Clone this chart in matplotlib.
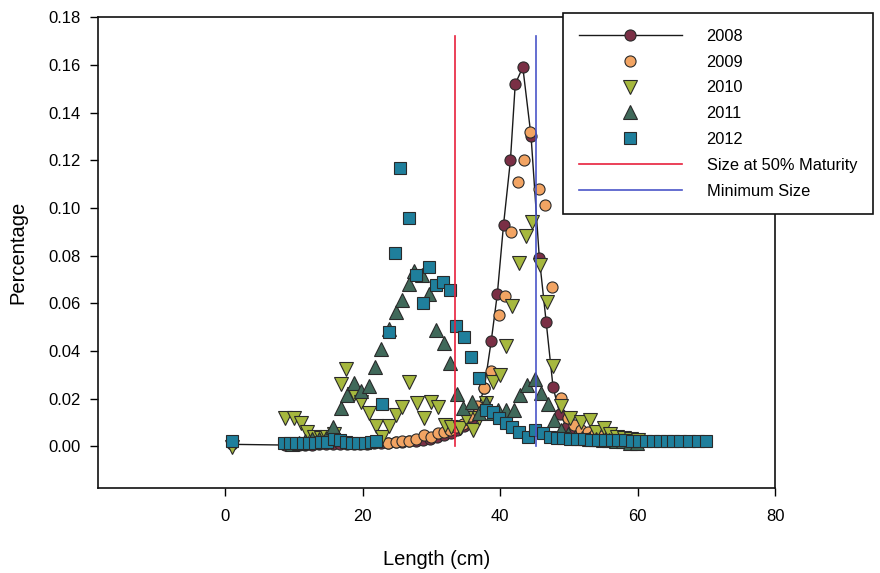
import numpy as np
import matplotlib
matplotlib.use("Agg")
import matplotlib.pyplot as plt

plt.rcParams["font.family"] = ["Liberation Sans", "DejaVu Sans"]

# ------------------------------------------------------------
# Length-frequency data
# ------------------------------------------------------------

len_2008 = [1.0, 8.7, 9.7, 10.7, 11.7, 12.7, 13.7, 14.7, 15.7, 16.7, 17.7, 18.7,
            19.7, 20.7, 21.7, 22.7, 23.7, 24.8, 25.8, 26.8, 27.8, 28.8, 29.8, 30.8,
            31.8, 32.8, 33.8, 34.8, 35.8, 36.8, 37.7, 38.7, 39.6, 40.5, 41.5, 42.2,
            43.3, 44.5, 45.7, 46.7, 47.7, 48.7, 49.7, 50.7, 51.7, 52.7, 53.7, 54.7,
            55.7, 56.7, 57.7, 58.7, 59.7]
pct_2008 = [0.0008, 0.0005, 0.0005, 0.0006, 0.0006, 0.0007, 0.0008, 0.0008, 0.0009,
            0.0010, 0.0009, 0.0010, 0.0011, 0.0011, 0.0012, 0.0013, 0.0014, 0.0016,
            0.0018, 0.0020, 0.0024, 0.0028, 0.0032, 0.0038, 0.0046, 0.0056, 0.0068,
            0.0085, 0.0105, 0.0160, 0.0245, 0.044, 0.064, 0.093, 0.120, 0.152,
            0.159, 0.130, 0.079, 0.052, 0.0247, 0.0134, 0.008, 0.006, 0.005,
            0.0045, 0.004, 0.0035, 0.003, 0.003, 0.0025, 0.002, 0.002]

len_2009 = [23.7, 24.8, 25.8, 26.8, 27.8, 28.9, 30.0, 30.9, 31.8, 32.7, 33.6, 34.6,
            35.6, 36.7, 37.7, 38.7, 39.8, 40.7, 41.6, 42.6, 43.5, 44.4, 45.6, 46.5,
            47.6, 48.9, 49.8, 50.8, 51.8, 52.8, 53.8, 54.8, 55.8, 56.8, 57.8, 58.8,
            59.8]
pct_2009 = [0.0015, 0.0018, 0.0020, 0.0024, 0.0030, 0.0046, 0.0040, 0.0054, 0.0060,
            0.0068, 0.0080, 0.0095, 0.0125, 0.017, 0.0243, 0.0315, 0.055, 0.063,
            0.090, 0.111, 0.120, 0.132, 0.108, 0.101, 0.0668, 0.0204, 0.012, 0.009,
            0.007, 0.006, 0.005, 0.0045, 0.004, 0.0035, 0.003, 0.0025, 0.002]

len_2010 = [1.0, 8.7, 10.1, 11.1, 11.9, 12.9, 13.9, 14.9, 15.9, 16.8, 17.6, 18.7,
            19.8, 20.9, 21.9, 22.9, 23.8, 24.9, 25.8, 26.8, 27.9, 29.0, 30.0, 30.9,
            32.0, 32.9, 34.1, 35.1, 36.0, 37.0, 37.9, 38.9, 40.0, 40.9, 41.8, 42.8,
            43.8, 44.7, 45.8, 46.8, 47.7, 48.9, 50.1, 51.7, 53.0, 54.0, 55.1, 56.0,
            57.0, 58.0, 59.0, 60.0]
pct_2010 = [-0.0005, 0.0117, 0.0117, 0.0096, 0.0060, 0.004, 0.0035, 0.004, 0.005,
            0.026, 0.0325, 0.022, 0.0185, 0.0138, 0.0085, 0.004, 0.0087, 0.013,
            0.0166, 0.027, 0.018, 0.0117, 0.0187, 0.0166, 0.0089, 0.0082, 0.0075,
            0.0117, 0.0068, 0.012, 0.018, 0.027, 0.0298, 0.042, 0.059, 0.077,
            0.088, 0.094, 0.0762, 0.0605, 0.0336, 0.0167, 0.0117, 0.0100, 0.011,
            0.006, 0.0078, 0.005, 0.004, 0.0035, 0.003, 0.0025]

len_2011 = [9.7, 10.7, 11.7, 12.7, 13.7, 14.7, 15.7, 16.9, 17.8, 18.8, 19.8, 20.9,
            21.8, 22.7, 23.8, 24.8, 25.7, 26.7, 27.5, 28.7, 29.6, 30.7, 31.8, 32.7,
            33.7, 34.6, 35.9, 36.9, 38.0, 38.9, 39.7, 40.9, 42.0, 42.9, 43.9, 45.0,
            45.9, 46.9, 47.9, 48.9, 49.9, 50.9, 51.9, 52.9, 53.9, 54.9, 55.9, 56.9,
            57.9, 58.9, 59.9]
pct_2011 = [0.001, 0.0015, 0.002, 0.003, 0.003, 0.0035, 0.0082, 0.0159, 0.0215,
            0.0265, 0.0232, 0.0252, 0.0331, 0.041, 0.049, 0.0565, 0.0615, 0.068,
            0.0737, 0.0717, 0.064, 0.0486, 0.0433, 0.0348, 0.0218, 0.0160, 0.0187,
            0.014, 0.018, 0.014, 0.015, 0.0153, 0.0153, 0.0215, 0.0256, 0.0284,
            0.0225, 0.0177, 0.011, 0.007, 0.005, 0.004, 0.0035, 0.003, 0.003,
            0.0025, 0.0025, 0.002, 0.002, 0.0015, 0.0015]

len_2012 = [1.0, 8.6, 9.5, 10.4, 11.3, 12.2, 13.1, 14.0, 14.9, 15.8, 16.7, 17.6,
            18.5, 19.4, 20.3, 21.2, 22.0, 22.8, 23.8, 24.7, 25.5, 26.7, 27.8, 28.8,
            29.6, 30.7, 31.7, 32.7, 33.6, 34.7, 35.8, 36.9, 37.9, 38.9, 39.9, 40.9,
            41.8, 42.8, 44.0, 45.0, 46.2, 47.2, 48.2, 49.2, 50.2, 51.2, 52.2, 53.2,
            54.2, 55.2, 56.2, 57.2, 58.2, 59.2, 60.2, 61.2, 62.2, 63.2, 64.2, 65.2,
            66.2, 67.5, 68.8, 70.0]
pct_2012 = [0.0022, 0.0012, 0.0012, 0.0013, 0.0013, 0.0014, 0.0015, 0.0016, 0.0018,
            0.0030, 0.0025, 0.0018, 0.0015, 0.0013, 0.0015, 0.0018, 0.0020, 0.0176,
            0.048, 0.0812, 0.1166, 0.0958, 0.072, 0.060, 0.0754, 0.0675, 0.069,
            0.0654, 0.0506, 0.0459, 0.0375, 0.0286, 0.0152, 0.0145, 0.0117, 0.0096,
            0.0082, 0.0061, 0.0040, 0.0068, 0.0054, 0.0040, 0.0035, 0.0035, 0.0032,
            0.0030, 0.0030, 0.0028, 0.0028, 0.0026, 0.0026, 0.0025, 0.0025, 0.0024,
            0.0024, 0.0023, 0.0023, 0.0022, 0.0022, 0.0022, 0.0022, 0.0022, 0.0022,
            0.0022]

maturity_size = 33.4   # size at 50% maturity (cm)
minimum_size = 45.2    # minimum legal size (cm)
ref_line_top = 0.172

x_ticks = [0, 20, 40, 60, 80]
y_ticks = [0.00, 0.02, 0.04, 0.06, 0.08, 0.10, 0.12, 0.14, 0.16, 0.18]


# ------------------------------------------------------------
# Plot
# ------------------------------------------------------------

fig = plt.figure(figsize=(8.8, 5.73), dpi=100)
ax = fig.add_axes([0.111, 0.148, 0.770, 0.822])

edge = "#2a2a2a"

ax.plot(len_2008, pct_2008, color="#1a1a1a", lw=1.0, marker="o", ms=8,
        mfc="#7a2f45", mec=edge, mew=0.8, label="2008")
ax.plot(len_2009, pct_2009, ls="none", marker="o", ms=8,
        mfc="#f2a463", mec=edge, mew=0.8, label="2009")
ax.plot(len_2010, pct_2010, ls="none", marker="v", ms=10,
        mfc="#a6b83e", mec=edge, mew=0.8, label="2010")
ax.plot(len_2011, pct_2011, ls="none", marker="^", ms=10,
        mfc="#40695a", mec=edge, mew=0.8, label="2011")
ax.plot(len_2012, pct_2012, ls="none", marker="s", ms=8,
        mfc="#1f7f9c", mec=edge, mew=0.8, label="2012")

ax.plot([maturity_size, maturity_size], [0, ref_line_top], color="#e8203c",
        lw=1.2, label="Size at 50% Maturity")
ax.plot([minimum_size, minimum_size], [0, ref_line_top], color="#4a55c8",
        lw=1.2, label="Minimum Size")

ax.set_xlim(-18.5, 80)
ax.set_ylim(-0.0176, 0.18)
ax.set_xticks(x_ticks)
ax.set_yticks(y_ticks)
ax.set_yticklabels([f"{v:.2f}" for v in y_ticks])

ax.tick_params(direction="out", length=6, width=1, labelsize=12)
ax.tick_params(axis="x", pad=9)
ax.tick_params(axis="y", pad=6)
for spine in ax.spines.values():
    spine.set_linewidth(1.2)
    spine.set_color("#111111")

ax.set_xlabel("Length (cm)", fontsize=14.5, labelpad=19)
ax.set_ylabel("Percentage", fontsize=14.5, labelpad=15)

leg = ax.legend(loc="upper left", bbox_to_anchor=(0.640, 0.977),
                bbox_transform=fig.transFigure, frameon=True, fancybox=False,
                framealpha=1, edgecolor="#111111", fontsize=11.8,
                handlelength=6.3, handletextpad=1.5, labelspacing=0.66,
                borderpad=0.95, borderaxespad=0)
leg.get_frame().set_linewidth(1.2)

fig.savefig("out.png", dpi=100)
